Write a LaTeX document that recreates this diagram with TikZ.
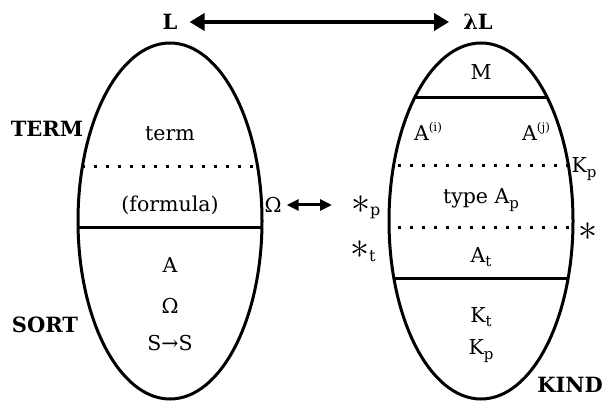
\RequirePackage{fix-cm}
\documentclass[tikz,border=0pt]{standalone}
\usepackage{fontspec}
\setmainfont{DejaVu Serif}
\usetikzlibrary{shapes.geometric,arrows.meta}
\newcommand{\mysub}[1]{\raisebox{-4.5pt}{\fontsize{15}{15}\selectfont #1}}
\newcommand{\mysup}[1]{\raisebox{9pt}{\fontsize{12}{12}\selectfont #1}}
\begin{document}
\begin{tikzpicture}[x=1pt,y=-1pt,
  txt/.style={font=\fontsize{20.5}{24}\selectfont, inner sep=0pt},
  bld/.style={font=\fontsize{21}{24}\selectfont\bfseries, inner sep=0pt},
  egg/.style={ellipse, draw, line width=3pt, minimum width=184pt, minimum height=356pt, inner sep=0pt},
  sep/.style={line width=3pt},
  dots/.style={line width=3pt, dash pattern=on 3pt off 9pt},
  bigarrow/.style={line width=4pt, {Triangle[length=15pt,width=17pt]}-{Triangle[length=15pt,width=17pt]}},
  smallarrow/.style={line width=3pt, {Triangle[length=12pt,width=11pt]}-{Triangle[length=12pt,width=11pt]}},
  star/.style={font=\fontsize{38}{38}\selectfont, inner sep=0pt}]
\useasboundingbox (0,0) rectangle (604,403);
% ellipses
\node[egg] (left) at (170,221) {};
\node[egg] (right) at (481,221) {};
\begin{scope}
  \clip (170,221) ellipse (92 and 178);
  \draw[dots] (70,167) -- (262,167);
  \draw[sep] (70,227) -- (270,227);
\end{scope}
\begin{scope}
  \clip (481,221) ellipse (92 and 178);
  \draw[sep] (380,98) -- (580,98);
  \draw[dots] (386,166) -- (580,166);
  \draw[dots] (386,227) -- (580,227);
  \draw[sep] (380,278) -- (580,278);
\end{scope}
% top labels
\node[bld] (L) at (170,22) {L};
\node[bld] (lL) at (478,22) {λL};
\coordinate (la) at ([xshift=12pt]L.east);
\coordinate (ra) at ([xshift=-14pt]lL.west);
\draw[bigarrow] (la) -- (ra);
% left ellipse texts
\node[bld] (term) at (47,129) {TERM};
\node[bld] (sort) at (45,325) {SORT};
\node[txt] (t1) at (170,134) {term};
\node[txt] (t2) at (170,205) {(formula)};
\node[txt] (om) at (273,205) {Ω};
\node[txt] (A) at (170,265) {A};
\node[txt] (om2) at (170,306) {Ω};
\node[txt] (ss) at (170,343) {S→S};
% right ellipse texts
\node[txt] (M) at (481,72) {M};
\node[txt] (Ai) at (428,131) {A\mysup{(i)}};
\node[txt] (Aj) at (536,131) {A\mysup{(j)}};
\node[txt] (Kp1) at (584,169) {K\mysub{p}};
\node[txt] (typ) at (481,200) {type A\mysub{p}};
\node[star] (st) at (588,232) {$\ast$};
\node[txt] (At) at (481,257) {A\mysub{t}};
\node[txt] (Kt) at (481,317) {K\mysub{t}};
\node[txt] (Kp2) at (481,351) {K\mysub{p}};
\node[bld,anchor=east] (kind) at (603,385) {KIND};
% stars left of right ellipse
\node[star] (sp) at (361,205) {$\ast$};
\node[txt,anchor=west] (spp) at (370,213) {\fontsize{16}{16}\selectfont p};
\node[star] (stt) at (360,250) {$\ast$};
\node[txt,anchor=west] (stts) at (369,256) {\fontsize{16}{16}\selectfont t};
% middle arrow
\coordinate (ma) at ([xshift=5pt]om.east);
\coordinate (mb) at (332,205);
\draw[smallarrow] (ma) -- (mb);
\end{tikzpicture}
\end{document}
